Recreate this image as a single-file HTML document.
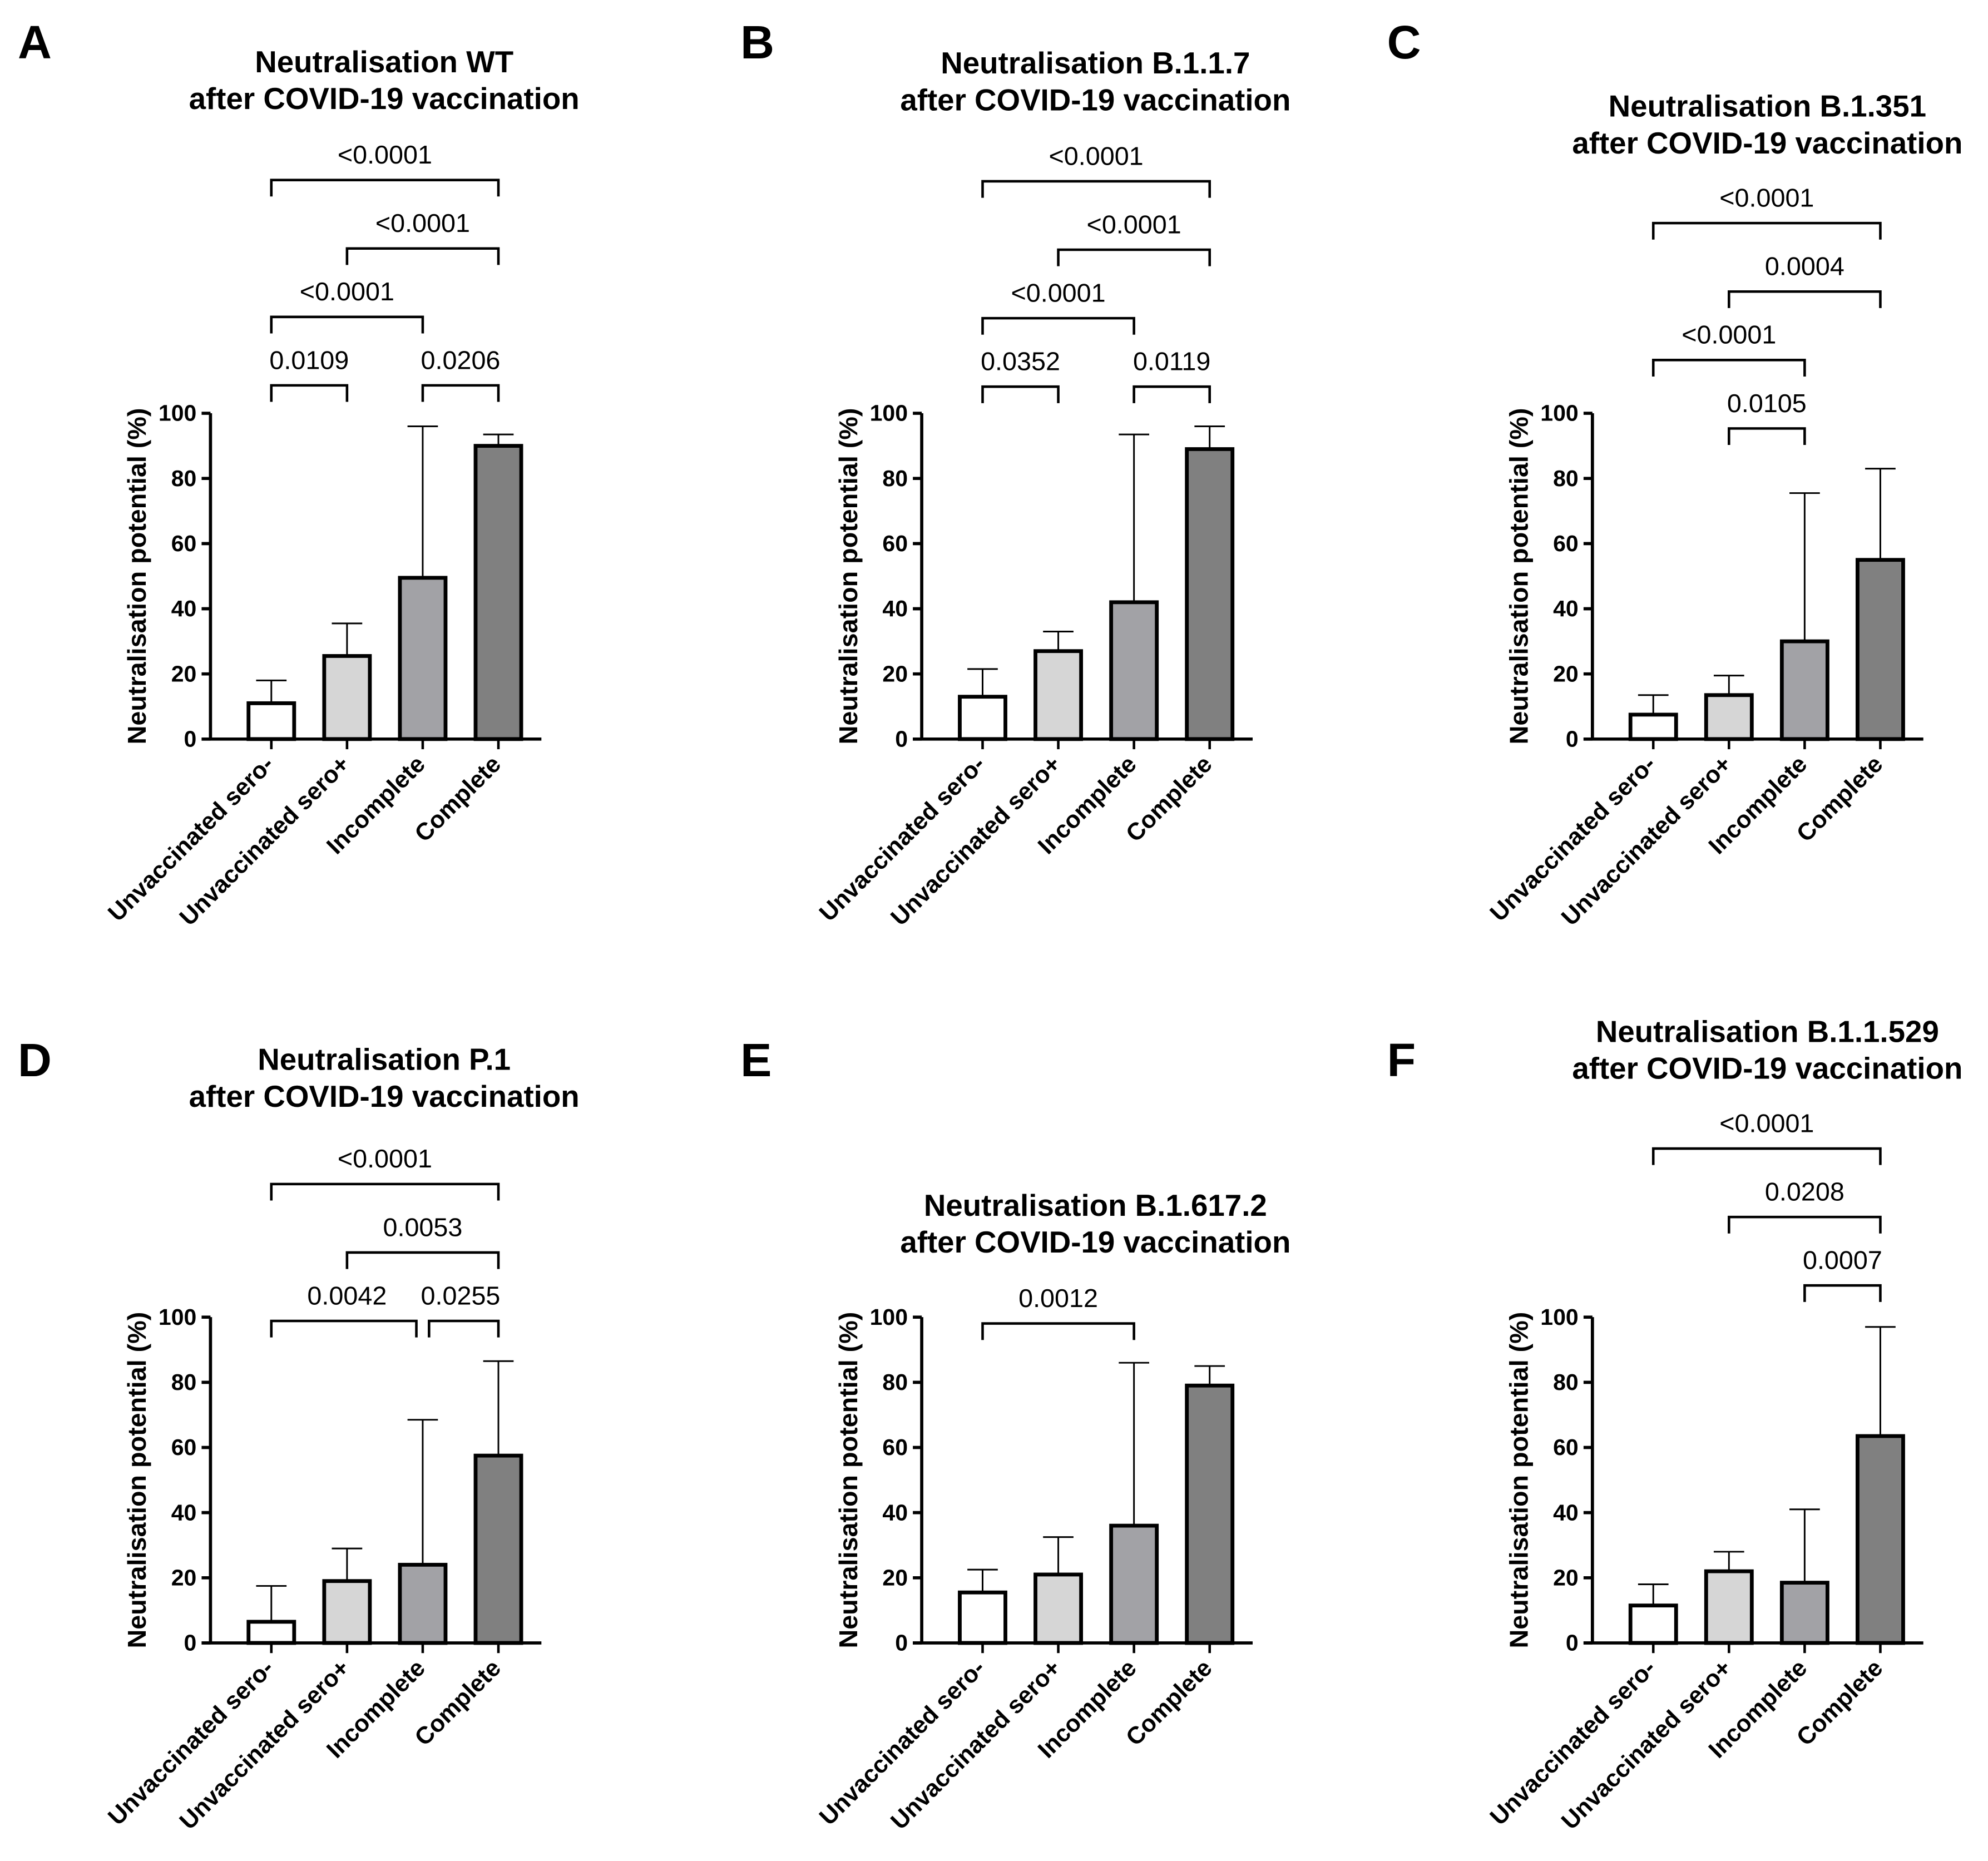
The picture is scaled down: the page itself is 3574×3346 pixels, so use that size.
<!DOCTYPE html>
<html><head><meta charset="utf-8"><style>
html,body{margin:0;padding:0;background:#fff;}
svg{display:block;}
text{font-family:"Liberation Sans",Arial,sans-serif;}
</style></head>
<body>
<svg id="fig" width="3574" height="3346" viewBox="0 0 1568 1468" xmlns="http://www.w3.org/2000/svg"></svg>
<script>
const categories = ["Unvaccinated sero-", "Unvaccinated sero+", "Incomplete", "Complete"];
const yTicks = [0, 20, 40, 60, 80, 100];
const meansA = [11, 25.5, 49.5, 90];
const errA = [18, 35.5, 96, 93.5];
const meansB = [13, 27, 42, 89];
const errB = [21.5, 33, 93.5, 96];
const meansC = [7.5, 13.5, 30, 55];
const errC = [13.5, 19.5, 75.5, 83];
const meansD = [6.5, 19, 24, 57.5];
const errD = [17.5, 29, 68.5, 86.5];
const meansE = [15.5, 21, 36, 79];
const errE = [22.5, 32.5, 86, 85];
const meansF = [11.5, 22, 18.5, 63.5];
const errF = [18, 28, 41, 97];
const sigA = [[0,3,"<0.0001"],[1,3,"<0.0001"],[0,2,"<0.0001"],[0,1,"0.0109"],[2,3,"0.0206"]];
const sigB = [[0,3,"<0.0001"],[1,3,"<0.0001"],[0,2,"<0.0001"],[0,1,"0.0352"],[2,3,"0.0119"]];
const sigC = [[0,3,"<0.0001"],[1,3,"0.0004"],[0,2,"<0.0001"],[1,2,"0.0105"]];
const sigD = [[0,3,"<0.0001"],[1,3,"0.0053"],[0,2,"0.0042"],[2,3,"0.0255"]];
const sigE = [[0,2,"0.0012"]];
const sigF = [[0,3,"<0.0001"],[1,3,"0.0208"],[2,3,"0.0007"]];
const fills = ["#ffffff", "#d6d6d6", "#a2a2a6", "#808080"];

const NS = "http://www.w3.org/2000/svg";
const svg = document.getElementById("fig");
function mk(tag, attrs, parent, txt) {
  const e = document.createElementNS(NS, tag);
  for (const k in attrs) e.setAttribute(k, attrs[k]);
  if (txt !== undefined) e.textContent = txt;
  (parent || svg).appendChild(e);
  return e;
}

const panels = [
  {id:"a", letter:"A", lx:14, ly:46, ax:166, y0:583, title:["Neutralisation WT","after COVID-19 vaccination"], tx:303, ty:57, means:meansA, err:errA, sig:sigA, sigY:[142,196,250,304,304]},
  {id:"b", letter:"B", lx:584, ly:46, ax:727, y0:583, title:["Neutralisation B.1.1.7","after COVID-19 vaccination"], tx:864, ty:58, means:meansB, err:errB, sig:sigB, sigY:[143,197,251,305,305]},
  {id:"c", letter:"C", lx:1094, ly:46, ax:1256, y0:583, title:["Neutralisation B.1.351","after COVID-19 vaccination"], tx:1394, ty:92, means:meansC, err:errC, sig:sigC, sigY:[176,230,284,338]},
  {id:"d", letter:"D", lx:14, ly:849, ax:166, y0:1296, title:["Neutralisation P.1","after COVID-19 vaccination"], tx:303, ty:844, means:meansD, err:errD, sig:sigD, sigY:[934,988,1042,1042]},
  {id:"e", letter:"E", lx:584, ly:849, ax:727, y0:1296, title:["Neutralisation B.1.617.2","after COVID-19 vaccination"], tx:864, ty:959, means:meansE, err:errE, sig:sigE, sigY:[1044]},
  {id:"f", letter:"F", lx:1094, ly:849, ax:1256, y0:1296, title:["Neutralisation B.1.1.529","after COVID-19 vaccination"], tx:1394, ty:822, means:meansF, err:errF, sig:sigF, sigY:[906,960,1014]}
];

panels.forEach(p => {
  const g = mk("g", {});
  
  
  const yScale = v => p.y0 - v * 2.57;
  const xScale = i => p.ax + 48 + i * 59.7;

  const L = mk("text", {x:p.lx, y:p.ly, "font-size":37, "font-weight":"bold"}, g, p.letter);
  
  

  p.title.forEach((t, k) => {
    const T = mk("text", {x:p.tx, y:p.ty + k*29, "font-size":24, "font-weight":"bold", "text-anchor":"middle"}, g, t);
    
    
  });

  p.means.forEach((m, i) => {
    const cx = xScale(i);
    const eb = mk("g", {}, g);
    
    
    mk("line", {x1:cx, x2:cx, y1:yScale(m), y2:yScale(p.err[i]), stroke:"#000", "stroke-width":1.3}, eb);
    mk("line", {x1:cx-12, x2:cx+12, y1:yScale(p.err[i]), y2:yScale(p.err[i]), stroke:"#000", "stroke-width":1.3}, eb);
    const b = mk("rect", {x:cx-18, y:yScale(m), width:36, height:p.y0 - yScale(m), fill:fills[i], stroke:"#000", "stroke-width":3}, g);
    
    
  });

  const ya = mk("line", {x1:p.ax, x2:p.ax, y1:yScale(100), y2:p.y0, stroke:"#000", "stroke-width":2.5}, g);
  
  
  const xa = mk("line", {x1:p.ax-7, x2:p.ax+261, y1:p.y0, y2:p.y0, stroke:"#000", "stroke-width":2.5}, g);
  
  

  yTicks.forEach(v => {
    mk("line", {x1:p.ax-7, x2:p.ax, y1:yScale(v), y2:yScale(v), stroke:"#000", "stroke-width":2.5}, g);
    const t = mk("text", {x:p.ax-11, y:yScale(v)+6, "font-size":18, "font-weight":"bold", "text-anchor":"end"}, g, v);
    
    
  });
  const yt = mk("text", {transform:`translate(${p.ax-51},${yScale(50)}) rotate(-90)`, "font-size":20.5, "font-weight":"bold", "text-anchor":"middle"}, g, "Neutralisation potential (%)");
  
  

  categories.forEach((c, i) => {
    const cx = xScale(i);
    mk("line", {x1:cx, x2:cx, y1:p.y0, y2:p.y0+8, stroke:"#000", "stroke-width":2}, g);
    const t = mk("text", {transform:`translate(${cx+3},${p.y0+21}) rotate(-45)`, "font-size":19, "font-weight":"bold", "text-anchor":"end"}, g, c);
    
    
  });

  p.sig.forEach((s, k) => {
    const y = p.sigY[k];
    let x1 = xScale(s[0]), x2 = xScale(s[1]);
    p.sig.forEach((o, j) => {
      if (j !== k && p.sigY[j] === y) {
        if (o[0] === s[1]) x2 -= 5;
        if (o[1] === s[0]) x1 += 5;
      }
    });
    const br = mk("g", {}, g);
    
    
    mk("path", {d:`M${x1},${y+13} V${y} H${x2} V${y+13}`, fill:"none", stroke:"#000", "stroke-width":2}, br);
    mk("text", {x:(xScale(s[0])+xScale(s[1]))/2, y:y-13, "font-size":20.5, "text-anchor":"middle"}, br, s[2]);
  });
});
</script>
</body></html>
